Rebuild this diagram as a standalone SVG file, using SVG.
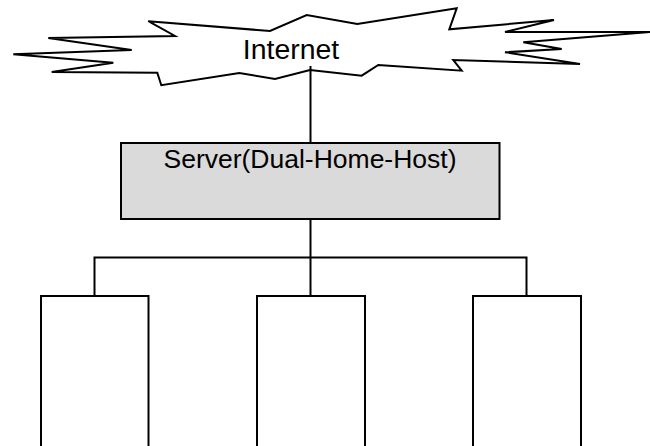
<svg xmlns="http://www.w3.org/2000/svg" width="650" height="446" viewBox="0 0 650 446">
  <style>
    .shape { fill: #ffffff; stroke: #000000; stroke-width: 2; stroke-linejoin: miter; }
    .server { fill: #dadada; stroke: #000000; stroke-width: 2; }
    .wire { fill: none; stroke: #000000; stroke-width: 2; }
    .label { font-family: "Liberation Sans", Arial, sans-serif; fill: #000000; text-anchor: middle; }
  </style>
  <rect width="650" height="446" fill="#ffffff"/>

  <!-- links: cloud to server, server to the three hosts -->
  <g id="connectors">
    <path class="wire" d="M310.5 66 V143"/>
    <path class="wire" d="M310.5 219 V257.5"/>
    <path class="wire" d="M94.5 296 V257.5 H526.5 V296"/>
    <path class="wire" d="M310.5 257.5 V296"/>
  </g>

  <g id="internet">
    <polygon class="shape" fill-opacity="0" points="148.3,21.2 270,31 306.7,15 357.3,24 456.7,8.3 449.3,29.3 554,20 505,32 650,32 523.3,42.3 561.7,49 505,52.3 580,64 453.3,60 461.7,70.7 378.3,65 361.7,75.7 310,70 275,79 239.3,73 161.3,85.2 157.3,72.7 51.7,72 113.3,62.7 13.3,54.2 131.7,50 48.3,38 175,36"/>
    <text class="label" x="291" y="59.3" font-size="28.4">Internet</text>
  </g>

  <g id="server">
    <rect class="server" x="121" y="143" width="378.5" height="76"/>
    <text class="label" x="310" y="168.3" font-size="26.5">Server(Dual-Home-Host)</text>
  </g>

  <g id="host-1">
    <rect class="shape" x="41" y="296" width="107.5" height="160"/>
  </g>
  <g id="host-2">
    <rect class="shape" x="257" y="296" width="108" height="160"/>
  </g>
  <g id="host-3">
    <rect class="shape" x="473" y="296" width="108" height="160"/>
  </g>
</svg>
